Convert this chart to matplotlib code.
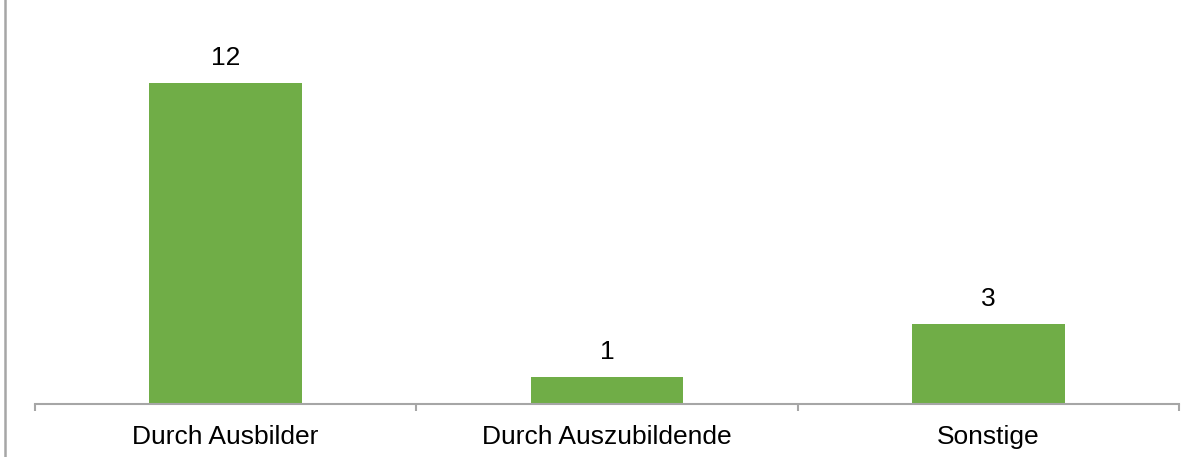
import matplotlib.pyplot as plt
from matplotlib.lines import Line2D

categories = ["Durch Ausbilder", "Durch Auszubildende", "Sonstige"]
values = [12, 1, 3]

plt.rcParams['font.family'] = ['Liberation Sans', 'DejaVu Sans']

fig = plt.figure(figsize=(12.04, 4.57), dpi=100)
ax = fig.add_axes([35 / 1204, 53 / 457, (1179 - 35) / 1204, 404 / 457])

x = list(range(len(categories)))
bars = ax.bar(x, values, width=0.4, color='#70AD47', zorder=2)

for xi, v in zip(x, values):
    ax.annotate(str(v), (xi, v), xytext=(0, 9.5), textcoords='offset points',
                ha='center', va='bottom', fontsize=19, color='black')

ax.set_xlim(-0.5, len(categories) - 0.5)
ax.set_ylim(0, 404 / 26.75)

for side in ['top', 'right', 'left']:
    ax.spines[side].set_visible(False)
ax.spines['bottom'].set_color('#A6A6A6')
ax.spines['bottom'].set_linewidth(1.5)

# major ticks mark category boundaries, minor ticks carry the labels
ax.set_xticks([i - 0.5 for i in range(len(categories) + 1)])
ax.set_xticklabels([])
ax.set_xticks(x, minor=True)
ax.set_xticklabels(categories, minor=True, fontsize=19)
ax.tick_params(axis='x', which='major', direction='out', length=5,
               width=1.5, color='#A6A6A6')
ax.tick_params(axis='x', which='minor', length=0, pad=15)
ax.set_yticks([])

# frame line on the left edge
fig.add_artist(Line2D([5 / 1204, 5 / 1204], [0, 1], color='#A6A6A6',
                      linewidth=1.8, transform=fig.transFigure))

fig.savefig('out.png', dpi=100, facecolor='white')
